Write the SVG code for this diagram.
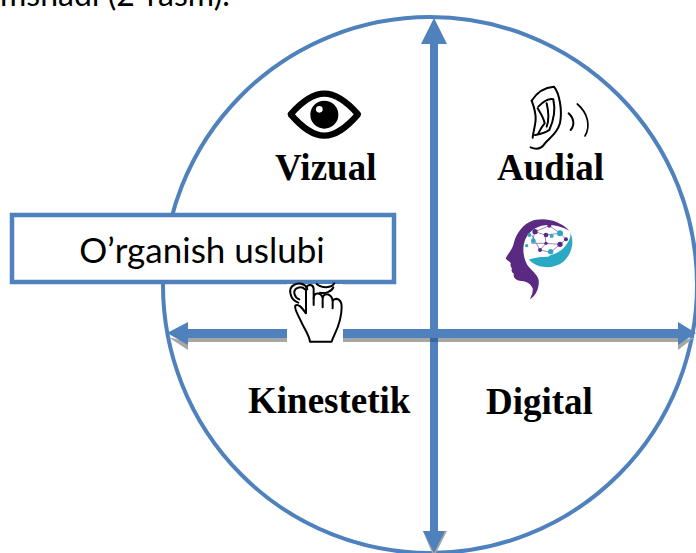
<svg xmlns="http://www.w3.org/2000/svg" width="696" height="553" viewBox="0 0 696 553">
<defs>
<style>
.lbl{font-family:"Liberation Serif",serif;font-weight:bold;font-size:37px;fill:#000}
.ink{fill:none;stroke:#000;stroke-linecap:round;stroke-linejoin:round}
.blue{fill:#4f81bd}
.grey{fill:#a6a6a6}
.p{fill:#5a2a82}
.t{fill:#2aa9c4}
</style>
</defs>
<rect width="696" height="553" fill="#fff"/>
<text x="0" y="6" font-family="Lato,sans-serif" font-size="32" fill="#000">mshadi (2-rasm).</text>
<g id="circle"><ellipse cx="430" cy="285" rx="267" ry="268" fill="#fff" stroke="#4f81bd" stroke-width="4"/></g>
<g id="connectors">
<path class="grey" d="M188 337H678V342H188ZM188 342V350L168 337ZM678 342V350L695 337Z"/>
<path class="grey" d="M423 531H447L436 553H432Z"/>
<rect class="blue" x="430" y="40" width="8" height="493"/>
<rect x="430" y="329" width="8" height="13" fill="#2f5f96" opacity=".75"/>
<path class="blue" d="M421 44 434 18 447 44ZM423 531H445L434 553Z"/>
<path class="blue" d="M188 329H680V338H188ZM188 322V345L167 333ZM678 322 696 333 678 345Z"/>
</g>
<g id="box"><rect x="12" y="215" width="382" height="67" fill="#fff" stroke="#4f81bd" stroke-width="4.5"/><text x="202" y="263" text-anchor="middle" font-family="Lato,sans-serif" font-size="35" fill="#000">O’rganish uslubi</text></g>
<g id="vizual">
<g transform="translate(270 70) scale(.3333)">
<path d="M62 133C100 90 130 71 163 71S226 90 264 133C226 176 196 197 163 197S100 176 62 133Z" fill="#fff" stroke="#000" stroke-width="19" stroke-linejoin="round"/>
<circle cx="163" cy="134" r="42" fill="#000"/><circle cx="148" cy="118" r="10" fill="#fff"/>
</g>
<text class="lbl" x="275" y="180">Vizual</text>
</g>
<g id="audial">
<g transform="translate(270 70) scale(.3333)" class="ink" stroke-width="6">
<path d="M785 92C800 68 825 52 852 50C868 70 878 120 870 160C860 195 835 205 825 220C815 235 800 240 782 232"/>
<path d="M785 92C792 110 798 130 797 150C795 172 790 185 788 203"/>
<path d="M805 110C820 95 838 85 850 88C856 115 852 150 838 180C825 190 810 192 795 195"/>
<path d="M803 115C812 130 822 145 824 160C815 170 810 180 805 190"/>
<path d="M830 100C836 125 838 150 830 170"/>
<path d="M896 130C912 145 915 165 902 180" stroke-width="6"/>
<path d="M922 102C955 130 962 170 945 198" stroke-width="5"/>
</g>
<text class="lbl" x="497" y="180">Audial</text>
</g>
<g id="digital">
<g transform="translate(480 200) scale(.3333)">
<path class="p" d="M268 92C235 58 185 50 150 65C120 80 105 110 100 135C95 150 82 165 77 175C80 182 92 185 92 190C90 198 94 202 96 206C92 212 97 218 101 220C100 232 104 240 125 243C142 245 152 252 158 265C160 280 152 290 150 298C170 285 178 262 176 240C172 222 152 210 142 195C128 170 125 135 140 110C160 78 205 60 268 92Z"/>
<path class="t" d="M148 178C165 172 190 170 205 170C215 160 240 165 262 130C275 110 272 100 268 92C285 120 278 160 250 185C225 205 185 207 160 190C155 187 150 183 148 178Z"/>
<path d="M165 95 208 77 240 100 258 118 240 133 212 157 180 150 155 105M165 95 195 105 240 100M195 105 198 130 240 133M155 130 198 130 180 150M165 95 155 130" fill="none" stroke="#8d6fb5" stroke-width="2.5"/>
<circle class="p" cx="165" cy="95" r="8"/><circle class="p" cx="208" cy="77" r="6"/><circle class="t" cx="240" cy="100" r="9"/><circle class="p" cx="258" cy="118" r="6"/><circle class="p" cx="240" cy="133" r="8"/><circle class="t" cx="212" cy="155" r="8"/><circle class="p" cx="180" cy="150" r="6"/><circle class="t" cx="148" cy="105" r="6"/><circle class="t" cx="160" cy="122" r="7"/><circle class="p" cx="198" cy="105" r="7"/><circle class="p" cx="198" cy="130" r="5"/><circle class="t" cx="215" cy="108" r="6"/><circle class="t" cx="140" cy="137" r="5"/>
</g>
<text class="lbl" x="486" y="414">Digital</text>
</g>
<g id="kinestetik">
<rect x="287" y="284" width="56" height="62" fill="#fff"/>
<g transform="translate(150 270) scale(.3333)" class="ink" stroke-width="6">
<path d="M480 215H545C552 190 575 165 575 110C575 90 560 80 548 92C545 72 525 66 518 82C510 65 492 68 491 85V55C488 40 470 42 468 58V130C455 112 445 100 436 107C432 118 445 135 452 152C462 175 478 195 480 215"/>
<path d="M491 85V105M518 82V112M548 92V115"/>
<path d="M445 98C420 90 412 55 432 45C450 35 470 45 472 58"/>
<path d="M448 88C432 82 428 62 440 55C450 50 460 52 465 58"/>
<path d="M500 42C515 55 545 55 553 40"/>
<path d="M510 68C525 72 545 65 550 52"/>
</g>
<text class="lbl" x="248" y="413">Kinestetik</text>
</g>
</svg>
